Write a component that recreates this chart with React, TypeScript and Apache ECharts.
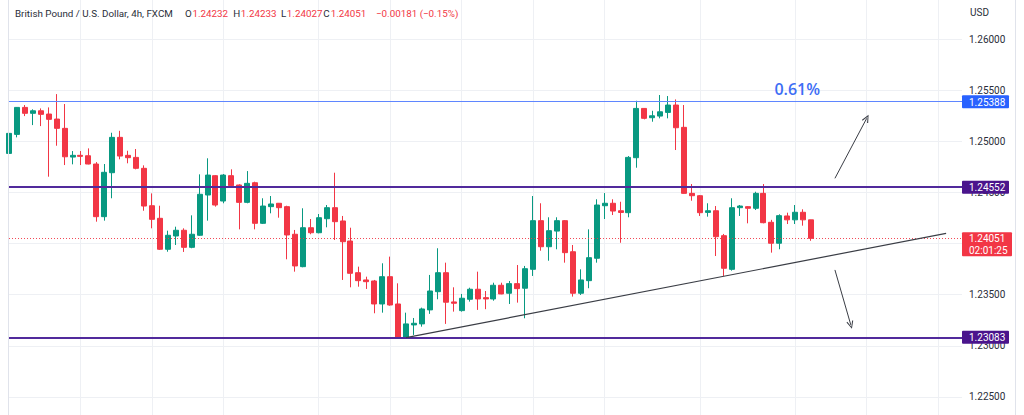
import React, { useEffect, useRef } from 'react';
import * as echarts from 'echarts';

// ---- data (GBP/USD, 4h, FXCM) ----
const opens = [
  1.24882, 1.25068, 1.25332, 1.25274, 1.25299, 1.25267, 1.25218, 1.25127, 1.24846, 1.24863,
  1.24859, 1.24778, 1.24263, 1.24693, 1.25039, 1.24863, 1.24843, 1.24736, 1.24370, 1.24247,
  1.23944, 1.24074, 1.24130, 1.23963, 1.24081, 1.24475, 1.24664, 1.24416, 1.24664, 1.24573,
  1.24403, 1.24595, 1.24198, 1.24361, 1.24394, 1.24361, 1.24091, 1.23774, 1.24155, 1.24106,
  1.24243, 1.24351, 1.24221, 1.24025, 1.23715, 1.23644, 1.23634, 1.23409, 1.23676, 1.23409,
  1.23083, 1.23204, 1.23214, 1.23351, 1.23529, 1.23715, 1.23429, 1.23344, 1.23455, 1.23553,
  1.23471, 1.23458, 1.23592, 1.23514, 1.23608, 1.23563, 1.23748, 1.24224, 1.23969, 1.24122,
  1.24224, 1.23920, 1.23514, 1.23637, 1.23856, 1.24370, 1.24394, 1.24321, 1.24302, 1.24840,
  1.25322, 1.25231, 1.25247, 1.25283, 1.25355, 1.25137, 1.24491, 1.24468, 1.24305, 1.24321,
  1.24077, 1.23748, 1.24351, 1.24361, 1.24345, 1.24491, 1.24208, 1.24003, 1.24270, 1.24232,
  1.24306, 1.24232,
];
const closes = [
  1.25078, 1.25332, 1.25274, 1.25299, 1.25264, 1.25215, 1.25127, 1.24849, 1.24863, 1.24853,
  1.24778, 1.24263, 1.24697, 1.25039, 1.24856, 1.24840, 1.24736, 1.24367, 1.24237, 1.23944,
  1.24081, 1.24130, 1.23963, 1.24091, 1.24482, 1.24670, 1.24377, 1.24670, 1.24566, 1.24403,
  1.24589, 1.24198, 1.24367, 1.24387, 1.24351, 1.24084, 1.23781, 1.24155, 1.24106, 1.24253,
  1.24351, 1.24214, 1.24018, 1.23709, 1.23637, 1.23627, 1.23409, 1.23676, 1.23399, 1.23083,
  1.23214, 1.23220, 1.23360, 1.23536, 1.23715, 1.23426, 1.23416, 1.23465, 1.23553, 1.23458,
  1.23458, 1.23592, 1.23507, 1.23608, 1.23559, 1.23754, 1.24224, 1.23969, 1.24126, 1.24224,
  1.23911, 1.23514, 1.23644, 1.23862, 1.24377, 1.24394, 1.24318, 1.24304, 1.24843, 1.25322,
  1.25225, 1.25250, 1.25289, 1.25355, 1.25133, 1.24491, 1.24468, 1.24302, 1.24321, 1.24067,
  1.23758, 1.24351, 1.24367, 1.24345, 1.24491, 1.24204, 1.24003, 1.24273, 1.24232, 1.24306,
  1.24232, 1.24051,
];
const lows = [
  1.24768, 1.25039, 1.25247, 1.25159, 1.25149, 1.24654, 1.24957, 1.24768, 1.24775, 1.24768,
  1.24775, 1.24214, 1.24224, 1.24443, 1.24824, 1.24785, 1.24726, 1.24321, 1.24149, 1.23937,
  1.23920, 1.23986, 1.23918, 1.23954, 1.24075, 1.24224, 1.24361, 1.24394, 1.24556, 1.24139,
  1.24394, 1.24139, 1.24191, 1.24296, 1.24253, 1.23846, 1.23725, 1.23768, 1.24091, 1.24100,
  1.24159, 1.24035, 1.23644, 1.23572, 1.23578, 1.23556, 1.23318, 1.23324, 1.23392, 1.23078,
  1.23074, 1.23106, 1.23187, 1.23312, 1.23455, 1.23214, 1.23334, 1.23334, 1.23432, 1.23351,
  1.23358, 1.23441, 1.23504, 1.23409, 1.23422, 1.23269, 1.23683, 1.23930, 1.23832, 1.23944,
  1.23813, 1.23481, 1.23497, 1.23563, 1.23813, 1.24240, 1.24279, 1.24008, 1.24257, 1.24742,
  1.25215, 1.25192, 1.25225, 1.25225, 1.24915, 1.24488, 1.24419, 1.24270, 1.24263, 1.23878,
  1.23683, 1.23735, 1.24270, 1.24198, 1.24328, 1.24198, 1.23911, 1.23944, 1.24191, 1.24191,
  1.24175, 1.24027,
];
const highs = [
  1.25208, 1.25335, 1.25355, 1.25313, 1.25322, 1.25332, 1.25462, 1.25365, 1.24905, 1.24905,
  1.24931, 1.24797, 1.24778, 1.25084, 1.25103, 1.24908, 1.24925, 1.24765, 1.24491, 1.24370,
  1.24126, 1.24165, 1.24149, 1.24276, 1.24677, 1.24834, 1.24670, 1.24680, 1.24726, 1.24580,
  1.24709, 1.24605, 1.24443, 1.24465, 1.24397, 1.24370, 1.24133, 1.24345, 1.24240, 1.24289,
  1.24377, 1.24693, 1.24270, 1.24155, 1.23774, 1.23676, 1.23644, 1.23807, 1.23872, 1.23611,
  1.23324, 1.23272, 1.23373, 1.23693, 1.23954, 1.23813, 1.23572, 1.23507, 1.23568, 1.23725,
  1.23536, 1.23617, 1.23617, 1.23634, 1.23790, 1.23781, 1.24465, 1.24394, 1.24257, 1.24257,
  1.24230, 1.23986, 1.23748, 1.24139, 1.24433, 1.24494, 1.24433, 1.24409, 1.24856, 1.25397,
  1.25325, 1.25299, 1.25453, 1.25443, 1.25410, 1.25355, 1.24582, 1.24475, 1.24394, 1.24367,
  1.24094, 1.24443, 1.24377, 1.24367, 1.24507, 1.24582, 1.24232, 1.24286, 1.24302, 1.24377,
  1.24335, 1.24233,
];

const slotCount = 121; // candles + empty right margin
const slots = Array.from({ length: slotCount }, (_, i) => String(i));
const gridSlots = [9, 18, 27, 39, 48, 57, 66, 75, 87, 99, 108, 117];

const yMin = 1.22;
const yMax = 1.265;
const yStep = 0.005;
// 1.265 / 1.22 lie outside the visible window; 1.24 is covered by the last-price badge
const hiddenTickLabels = [1.265, 1.24, 1.22];

const levelBlue = 1.25388;
const levelPurpleHigh = 1.24552;
const levelPurpleLow = 1.23083;
const lastPrice = 1.24051;
const countdown = '02:01:25';

const trendLine: [number, number][] = [[50, 1.2308], [118, 1.2410]];
const upArrow: [number, number][] = [[104, 1.24638], [108, 1.25225]];
const downArrow: [number, number][] = [[104, 1.23742], [106, 1.23204]];
const changeNote = { slot: 99, price: 1.25501, text: '0.61%' };

const titleText = 'British Pound / U.S. Dollar, 4h, FXCM';
const ohlcLabels = [
  { k: 'O', v: '1.24232', x: 185, vx: 192.5 },
  { k: 'H', v: '1.24233', x: 233.3, vx: 240.8 },
  { k: 'L', v: '1.24027', x: 281, vx: 286.8 },
  { k: 'C', v: '1.24051', x: 323.3, vx: 330.7 },
];
const changeText = '\u22120.00181 (\u22120.15%)';

const UP = '#089981';
const DOWN = '#f23645';
const BLUE = '#2962ff';
const PURPLE = '#4a148c';
const TEXT = '#2a2e39';
const GRIDC = '#eef0f4';
const FONT = 'Roboto';

const PLOT_LEFT = 9;
const PLOT_RIGHT = 962;
// the chart canvas runs from 1.265 (top) to 1.22 (bottom); the window shows its middle
const OFFSET = 12; // canvas pixels above the window
const CANVAS_H = 460;

const arrowHead = 'path://M0,10 L5,0 L10,10 L8.6,10.7 L5,2.8 L1.4,10.7 Z';

export default function App() {
  const ref = useRef<HTMLDivElement>(null);
  useEffect(() => {
    const el = ref.current!;
    const chart = echarts.init(el, null, { renderer: 'svg' });
    const candles = opens.map((o, i) => [o, closes[i], lows[i], highs[i]]);
    const lineItem = (pts: [number, number][], color: string, width: number, endSymbol?: string) => [
      { coord: pts[0], symbol: 'none', lineStyle: { color, width, type: 'solid' } },
      {
        coord: pts[1],
        symbol: endSymbol || 'none',
        symbolSize: [7, 8],
        itemStyle: { color },
        lineStyle: { color, width, type: 'solid' },
      },
    ];
    chart.setOption({
      animation: false,
      backgroundColor: '#ffffff',
      grid: {
        left: PLOT_LEFT,
        right: 1024 - PLOT_RIGHT,
        top: 0,
        bottom: 0,
        containLabel: false,
      },
      xAxis: {
        type: 'category',
        data: slots,
        boundaryGap: false,
        axisLine: { show: false },
        axisTick: { show: false },
        axisLabel: { show: false },
        splitLine: {
          show: true,
          interval: (idx: number) => gridSlots.indexOf(idx) >= 0,
          lineStyle: { color: GRIDC, width: 1 },
        },
      },
      yAxis: {
        type: 'value',
        position: 'right',
        min: yMin,
        max: yMax,
        interval: yStep,
        axisLine: { show: false },
        axisTick: { show: false },
        axisLabel: {
          margin: 7,
          color: TEXT,
          fontSize: 10,
          fontFamily: FONT,
          formatter: (v: number) =>
            hiddenTickLabels.some((h) => Math.abs(h - v) < 1e-7) ? '' : v.toFixed(5),
        },
        splitLine: { show: true, lineStyle: { color: GRIDC, width: 1 } },
      },
      series: [
        {
          type: 'candlestick',
          data: candles,
          barWidth: 5.5,
          itemStyle: {
            color: UP,
            color0: DOWN,
            borderColor: UP,
            borderColor0: DOWN,
            borderWidth: 1,
          },
          markLine: {
            silent: true,
            animation: false,
            precision: 5,
            symbol: ['none', 'none'],
            label: { show: false },
            emphasis: { disabled: true },
            data: [
              { yAxis: lastPrice, lineStyle: { color: DOWN, width: 1, type: [1, 2], opacity: 0.9 } },
              { yAxis: levelBlue, lineStyle: { color: '#5f86ff', width: 1.2, type: 'solid' } },
              { yAxis: levelPurpleHigh, lineStyle: { color: '#512a9c', width: 2, type: 'solid' } },
              { yAxis: levelPurpleLow, lineStyle: { color: '#512a9c', width: 2, type: 'solid' } },
              lineItem(trendLine, '#3a3d45', 1.2),
              lineItem(upArrow, '#3a3d45', 1, arrowHead),
              lineItem(downArrow, '#3a3d45', 1, arrowHead),
            ],
          },
          markPoint: {
            silent: true,
            animation: false,
            data: [
              {
                coord: [changeNote.slot, changeNote.price],
                symbol: 'circle',
                symbolSize: 1,
                itemStyle: { color: 'rgba(0,0,0,0)' },
                label: {
                  show: true,
                  position: 'inside',
                  formatter: changeNote.text,
                  color: '#3d6ef5',
                  fontSize: 16,
                  fontWeight: 600,
                  fontFamily: 'Open Sans',
                  offset: [2, -1],
                },
              },
            ],
          },
        },
      ],
    });

    const py = (p: number) => chart.convertToPixel({ yAxisIndex: 0 }, p) as unknown as number;
    const txt = (x: number, y: number, text: string, fill: string, extra: any = {}) => ({
      type: 'text',
      x,
      y,
      z: 100,
      silent: true,
      style: {
        text,
        fill,
        fontSize: 10,
        fontFamily: FONT,
        textAlign: 'left',
        textVerticalAlign: 'middle',
        verticalAlign: 'middle',
        ...extra,
      },
    });
    const badge = (price: number, color: string, label: string) => {
      const y = py(price);
      return [
        { type: 'rect', z: 99, silent: true, shape: { x: 962, y: y - 6.5, width: 47, height: 13, r: 1 }, style: { fill: color } },
        txt(969, y + 0.5, label, '#ffffff'),
      ];
    };
    const yLast = py(lastPrice);
    const titleY = OFFSET + 13;
    const tf = { fontSize: 9.8 };
    const graphic: any[] = [
      { type: 'line', z: 100, silent: true, shape: { x1: 8.5, y1: 0, x2: 8.5, y2: CANVAS_H }, style: { stroke: '#e0e3eb', lineWidth: 1 } },
      { type: 'line', z: 100, silent: true, shape: { x1: 1015.5, y1: 0, x2: 1015.5, y2: CANVAS_H }, style: { stroke: '#e0e3eb', lineWidth: 1 } },
      txt(15, titleY, titleText, TEXT, tf),
      ...ohlcLabels.flatMap((g) => [
        txt(g.x, titleY, g.k, TEXT, tf),
        txt(g.vx, titleY, g.v, DOWN, tf),
      ]),
      txt(376, titleY, changeText, DOWN, tf),
      txt(970, OFFSET + 12, 'USD', TEXT),
      ...badge(levelBlue, BLUE, levelBlue.toFixed(5)),
      ...badge(levelPurpleHigh, PURPLE, levelPurpleHigh.toFixed(5)),
      ...badge(levelPurpleLow, PURPLE, levelPurpleLow.toFixed(5)),
      { type: 'rect', z: 99, silent: true, shape: { x: 962, y: yLast - 6, width: 50, height: 24, r: 1 }, style: { fill: DOWN } },
      txt(969, yLast + 0.5, lastPrice.toFixed(5), '#ffffff'),
      txt(969, yLast + 12.5, countdown, '#ffffff'),
    ];
    chart.setOption({ graphic });
    return () => chart.dispose();
  }, []);
  return (
    <div
      ref={ref}
      style={{ position: 'fixed', left: 0, top: -OFFSET, width: 1024, height: CANVAS_H, background: '#ffffff' }}
    />
  );
}
